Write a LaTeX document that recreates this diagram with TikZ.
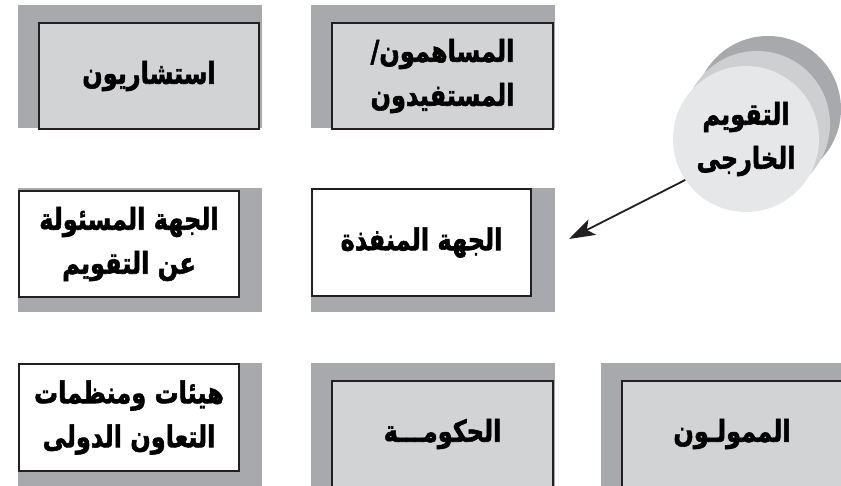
\documentclass[tikz,border=0pt]{standalone}
\usepackage{graphicx}
\usepackage{fontspec}
\newfontfamily\arabicfont[Script=Arabic,FakeBold=2]{DejaVu Sans}
\TeXXeTstate=1
\usetikzlibrary{arrows.meta}
\definecolor{shadowgray}{HTML}{A7A9AC}
\definecolor{boxgray}{HTML}{D1D3D4}
\definecolor{circfront}{HTML}{E6E7E8}
\definecolor{circmid}{HTML}{CDCFD1}
\definecolor{circback}{HTML}{A7A9AC}
\definecolor{ink}{HTML}{231F20}
\tikzset{
  shade/.style={fill=shadowgray, draw=none},
  graybox/.style={rectangle, draw=ink, line width=1.3pt, fill=boxgray, minimum width=220pt, minimum height=106pt, inner sep=0pt, align=center, font=\arabicfont\bfseries\fontsize{24}{39}\selectfont},
  whitebox/.style={graybox, fill=white},
  conn/.style={draw=ink, line width=1.8pt, -{Stealth[length=26pt,width=17pt,inset=6pt]}},
}
\newcommand{\ar}[1]{\scalebox{1}[1.25]{\beginR #1\endR}}
\begin{document}
\begin{tikzpicture}[x=1pt,y=-1pt]
\clip (0,0) rectangle (841,486);
\fill[white] (0,0) rectangle (841,486);
% shadows
\path[shade] (18,5) rectangle (262,128);
\path[shade] (311,5) rectangle (555,128);
\path[shade] (18,188) rectangle (262,312);
\path[shade] (311,188) rectangle (555,312);
\path[shade] (18,363) rectangle (262,490);
\path[shade] (311,363) rectangle (555,490);
\path[shade] (601,363) rectangle (845,490);
% boxes
\node[graybox] (consult) at (149,76) {\ar{استشاريون}};
\node[graybox, minimum width=221pt] (contrib) at (442.5,76) {\ar{المساهمون/}\\[5pt]\ar{المستفيدون}};
\node[whitebox] (evalbody) at (129,244) {\ar{الجهة المسئولة}\\[5pt]\ar{عن التقويم}};
\node[whitebox, minimum width=219pt, minimum height=107pt] (exec) at (421.5,242.5) {\ar{الجهة المنفذة}};
\node[whitebox, minimum height=107pt] (intl) at (129,417.5) {\ar{هيئات ومنظمات}\\[5pt]\ar{التعاون الدولى}};
\node[graybox, minimum width=221pt] (gov) at (442.5,434) {\ar{الحكومـــة}};
\node[graybox] (funders) at (732,434) {\ar{الممولـون}};
% external evaluation disc
\fill[circback] (768,109) circle (73pt);
\fill[circmid] (757,124) circle (73pt);
\node[circle, fill=circfront, minimum size=146pt, inner sep=0pt, align=center, font=\arabicfont\bfseries\fontsize{24}{39}\selectfont] (exteval) at (746,139) {\ar{التقويم}\\[5pt]\ar{الخارجى}};
\coordinate (tip) at (569,239);
\draw[conn] (exteval.214) -- (tip);
\end{tikzpicture}
\end{document}
